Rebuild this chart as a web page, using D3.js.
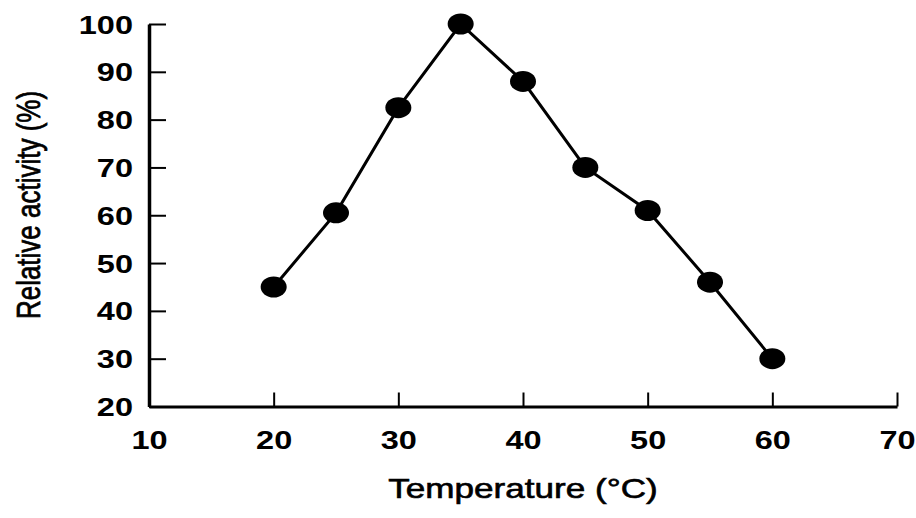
<!DOCTYPE html>
<html>
<head>
<meta charset="utf-8">
<script src="https://cdn.jsdelivr.net/npm/d3@7/dist/d3.min.js"></script>
<style>
  html, body { margin: 0; padding: 0; background: #fff; }
  svg { display: block; }
</style>
</head>
<body>
<svg id="chart" width="916" height="518"></svg>
<script>
// ---- data ----
const temperature = [20, 25, 30, 35, 40, 45, 50, 55, 60];
const relativeActivity = [45, 60.5, 82.5, 100, 88, 70, 61, 46, 30];
const xTicks = [10, 20, 30, 40, 50, 60, 70];
const yTicks = [20, 30, 40, 50, 60, 70, 80, 90, 100];
const xTitle = "Temperature (°C)";
const yTitle = "Relative activity (%)";

// ---- layout ----
const svg = d3.select("#chart");
const x = d3.scaleLinear().domain([10, 70]).range([149, 897]);
const y = d3.scaleLinear().domain([20, 100]).range([406.5, 24]);
const stretch = 1.3;
const font = "'Liberation Sans', Arial, sans-serif";

// x axis
const gx = svg.append("g").attr("transform", `translate(0,${y(20)})`)
  .call(d3.axisBottom(x).tickValues(xTicks).tickSizeInner(-14).tickSizeOuter(0).tickFormat(d3.format("d")));
gx.select(".domain").attr("stroke", "#000").attr("stroke-width", 3);
gx.selectAll(".tick line").attr("stroke", "#000").attr("stroke-width", 2);
gx.selectAll(".tick text")
  .attr("y", 43).attr("dy", 0)
  .attr("transform", `scale(${stretch},1)`)
  .attr("font-family", font).attr("font-weight", "bold").attr("font-size", 25)
  .attr("fill", "#000");

// y axis
const gy = svg.append("g").attr("transform", `translate(${x(10)},0)`)
  .call(d3.axisLeft(y).tickValues(yTicks).tickSizeInner(-17).tickSizeOuter(0).tickFormat(d3.format("d")));
gy.select(".domain").attr("stroke", "#000").attr("stroke-width", 3.5);
gy.selectAll(".tick line").attr("stroke", "#000").attr("stroke-width", 2);
gy.selectAll(".tick text")
  .attr("x", -16 / stretch).attr("dy", "0.36em")
  .attr("transform", `scale(${stretch},1)`)
  .attr("font-family", font).attr("font-weight", "bold").attr("font-size", 25)
  .attr("fill", "#000");

// line
const pts = temperature.map((t, i) => [t, relativeActivity[i]]);
svg.append("path")
  .datum(pts)
  .attr("fill", "none")
  .attr("stroke", "#000")
  .attr("stroke-width", 3)
  .attr("d", d3.line().x(d => x(d[0])).y(d => y(d[1])));

// markers
svg.selectAll("ellipse.pt")
  .data(pts)
  .join("ellipse")
  .attr("class", "pt")
  .attr("cx", d => x(d[0]))
  .attr("cy", d => y(d[1]))
  .attr("rx", 13)
  .attr("ry", 10.5)
  .attr("fill", "#000");

// axis titles
svg.append("text")
  .attr("transform", `translate(${(x(10) + x(70)) / 2},498) scale(${stretch},1)`)
  .attr("text-anchor", "middle")
  .attr("font-family", font).attr("font-size", 27)
  .attr("fill", "#000").attr("stroke", "#000").attr("stroke-width", 0.6)
  .text(xTitle);

svg.append("text")
  .attr("transform", `translate(40,205) scale(${stretch},1) rotate(-90)`)
  .attr("text-anchor", "middle")
  .attr("font-family", font).attr("font-size", 26)
  .attr("fill", "#000").attr("stroke", "#000").attr("stroke-width", 0.6)
  .text(yTitle);
</script>
</body>
</html>
